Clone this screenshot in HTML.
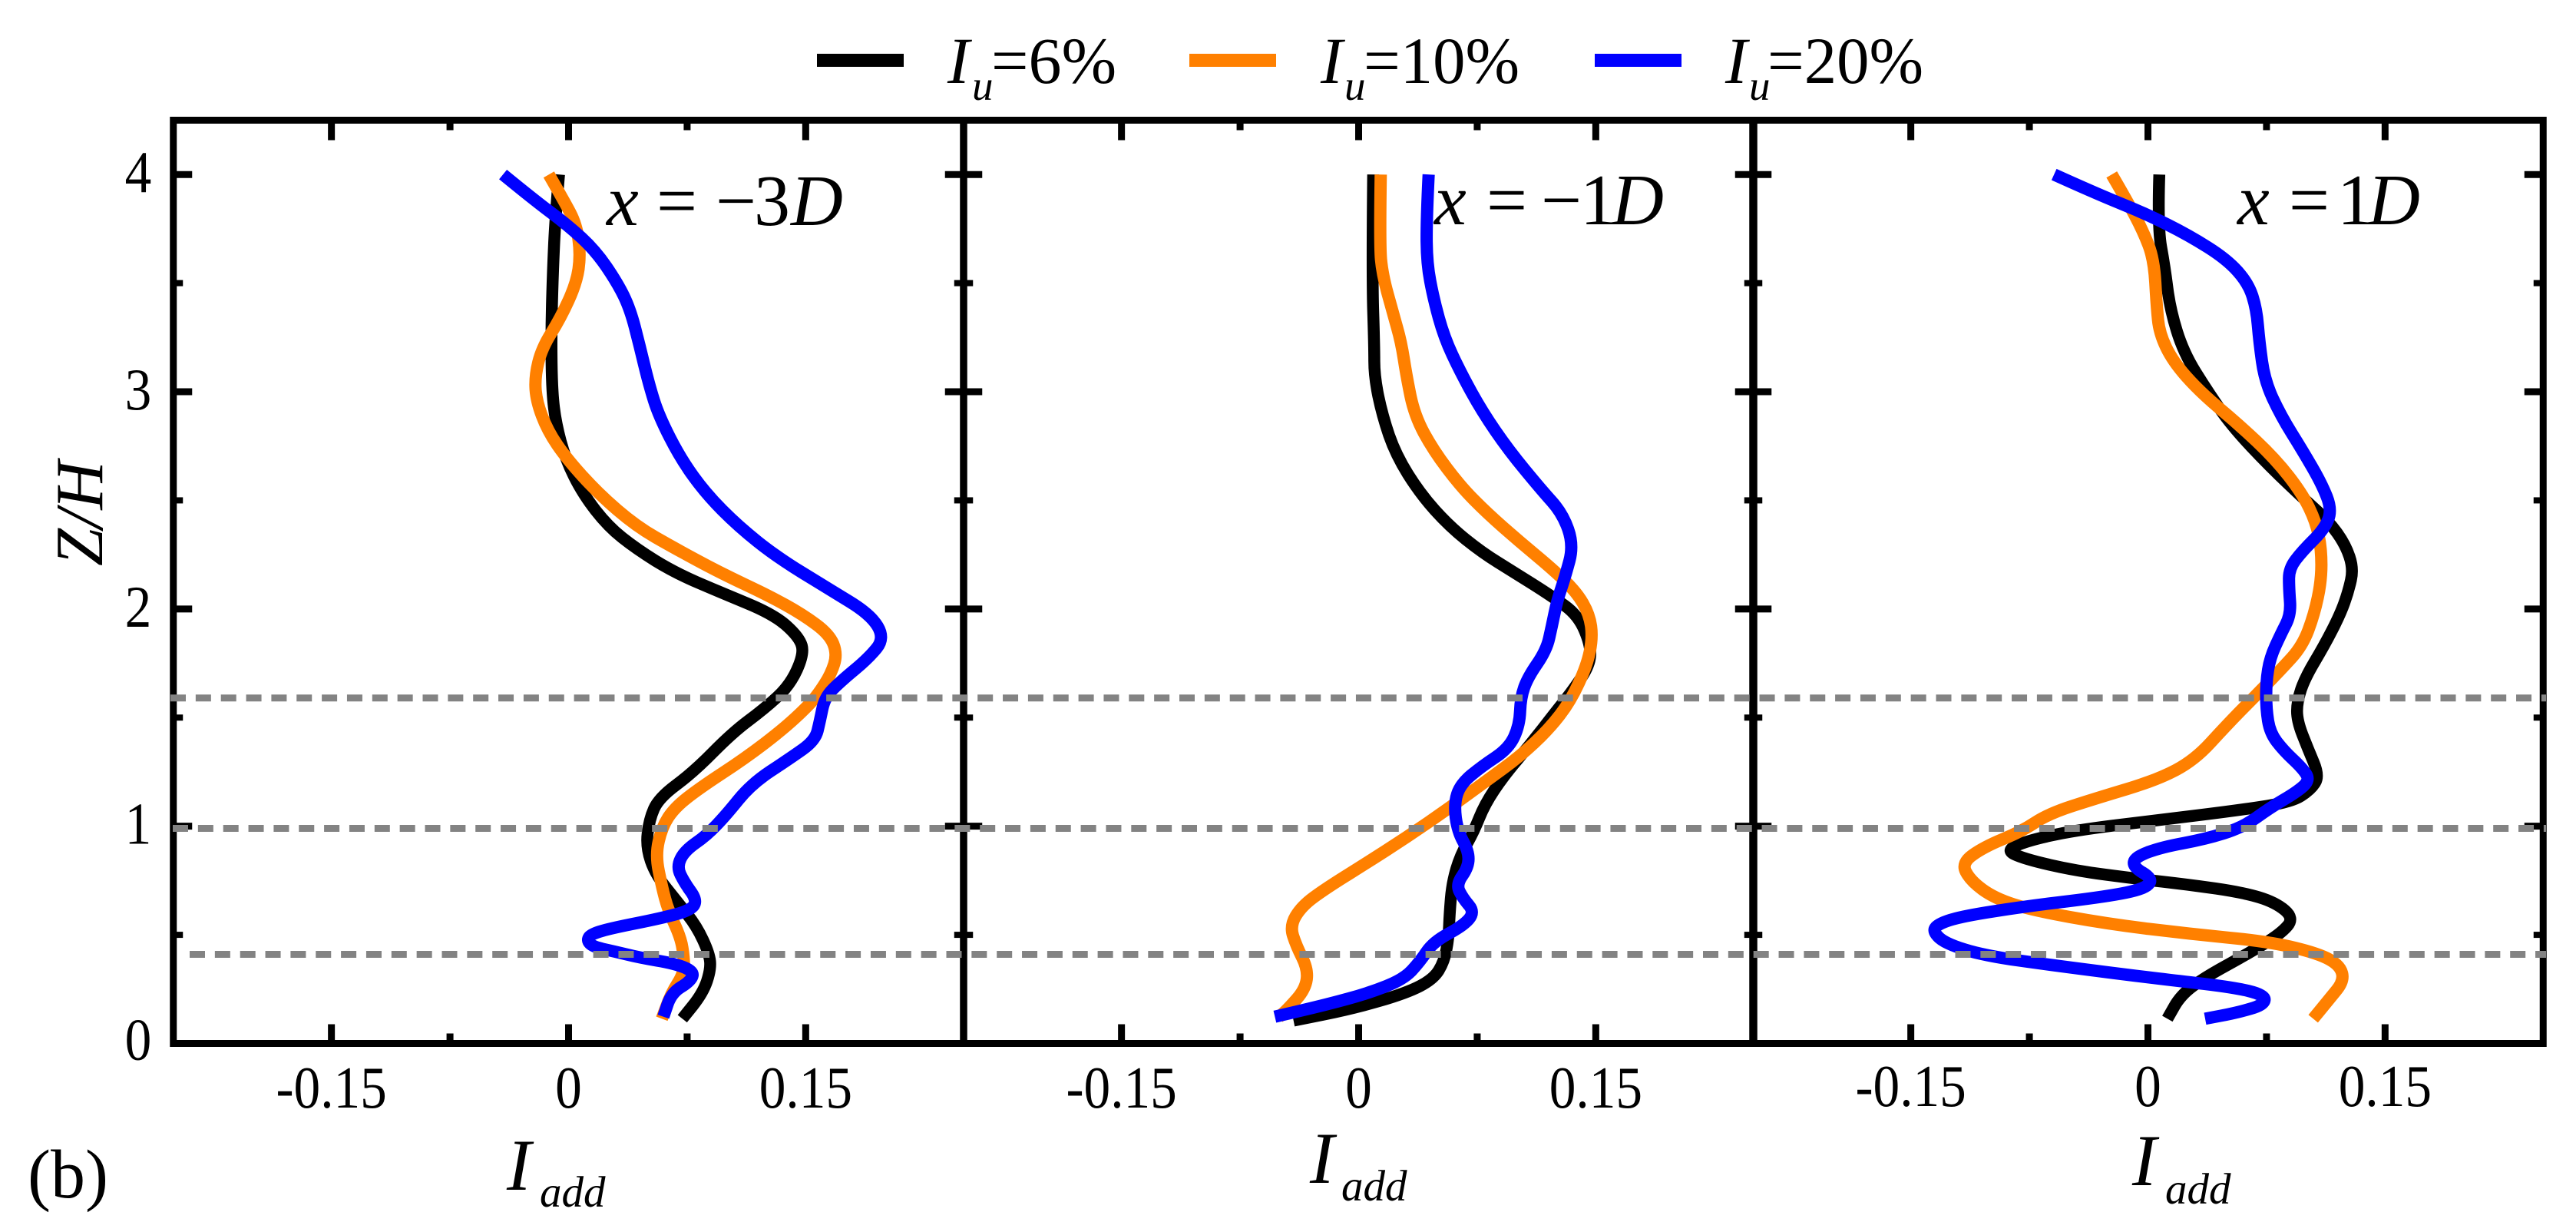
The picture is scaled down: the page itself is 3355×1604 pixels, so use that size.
<!DOCTYPE html>
<html lang="en">
<head>
<meta charset="utf-8">
<title>Added turbulence intensity profiles</title>
<style>
html,body{margin:0;padding:0;background:#fff;}
svg{display:block;}
text{font-family:"Liberation Serif",serif;fill:#000;}
.it{font-style:italic;}
</style>
</head>
<body>
<svg id="chart" xmlns="http://www.w3.org/2000/svg" width="3355" height="1604" viewBox="0 0 3355 1604">
  <rect x="0" y="0" width="3355" height="1604" fill="#fff"/>
  <g id="curves"></g>
  <g id="guides"></g>
  <g id="axes"></g>
  <g id="ticklabels"></g>

  <g>
    <g>
      <rect x="1064" y="70" width="113" height="17" fill="#000"/>
      <text class="it" x="1234" y="108" font-size="86">I</text>
      <text class="it" x="1266" y="130" font-size="55">u</text>
      <text x="1291" y="108" font-size="86">=6%</text>
    </g>
    <g>
      <rect x="1549" y="70" width="113" height="17" fill="#ff8000"/>
      <text class="it" x="1720" y="108" font-size="86">I</text>
      <text class="it" x="1751" y="130" font-size="55">u</text>
      <text x="1776" y="108" font-size="86" textLength="203" lengthAdjust="spacingAndGlyphs">=10%</text>
    </g>
    <g>
      <rect x="2077" y="70" width="113" height="17" fill="#0000ff"/>
      <text class="it" x="2247" y="108" font-size="86">I</text>
      <text class="it" x="2278" y="130" font-size="55">u</text>
      <text x="2302" y="108" font-size="86" textLength="203" lengthAdjust="spacingAndGlyphs">=20%</text>
    </g>
  </g>

  <g font-size="94">
    <text class="it" x="790" y="293">x</text>
    <text x="855" y="293">=</text>
    <text x="932" y="293">−</text>
    <text x="982" y="293">3</text>
    <text class="it" x="1030" y="293">D</text>
  </g>
  <g font-size="94">
    <text class="it" x="1868" y="292">x</text>
    <text x="1936" y="292">=</text>
    <text x="2007" y="292">−</text>
    <text x="2058" y="292">1</text>
    <text class="it" x="2099" y="292">D</text>
  </g>
  <g font-size="94">
    <text class="it" x="2914" y="292">x</text>
    <text x="2981" y="292">=</text>
    <text x="3044" y="292">1</text>
    <text class="it" x="3084" y="292">D</text>
  </g>

  <text class="it" transform="translate(133,737) rotate(-90)" font-size="88">Z/H</text>

  <g>
    <text class="it" x="660" y="1549" font-size="95">I</text>
    <text class="it" x="703" y="1571" font-size="57">add</text>
  </g>
  <g>
    <text class="it" x="1706" y="1540" font-size="95">I</text>
    <text class="it" x="1747" y="1563" font-size="57">add</text>
  </g>
  <g>
    <text class="it" x="2777" y="1543" font-size="95">I</text>
    <text class="it" x="2820" y="1567" font-size="57">add</text>
  </g>
  <text x="36" y="1559" font-size="90">(b)</text>
</svg>

<script>
// ---- Tick values and labels ----
const xMajorTicks = [-0.15, 0, 0.15];
const xMajorLabels = ["-0.15", "0", "0.15"];
const xMinorTicks = [-0.075, 0.075];
const yMajorTicks = [0, 1, 2, 3, 4];
const yMajorLabels = ["0", "1", "2", "3", "4"];
const yMinorTicks = [0.5, 1.5, 2.5, 3.5];
const guideHeights = [1.59, 0.99, 0.41];

// ---- Panel x = -3D ----
const p1BlackZ = [4,3.79,3.54,3.27,3,2.854,2.69,2.53,2.38,2.276,2.168,2.08,1.975,1.87,1.793,1.648,1.539,1.43,1.249,1.13,1.03,0.904,0.777,0.65,0.54,0.414,0.341,0.232,0.114];
const p1BlackI = [-0.006,-0.0085,-0.01,-0.011,-0.0105,-0.008,-0.002,0.009,0.025,0.043,0.067,0.095,0.13,0.146,0.149,0.14,0.1236,0.1035,0.079,0.057,0.051,0.049,0.055,0.069,0.081,0.089,0.09,0.085,0.072];
const p1OrangeZ = [4,3.88,3.77,3.63,3.5,3.34,3.2,3.07,2.96,2.82,2.69,2.53,2.38,2.28,2.17,2.06,1.975,1.884,1.793,1.7,1.61,1.557,1.448,1.312,1.176,1.085,0.995,0.867,0.722,0.613,0.486,0.396,0.323,0.232,0.114];
const p1OrangeI = [-0.0125,-0.003,0.005,0.0076,0.005,-0.005,-0.017,-0.0213,-0.0205,-0.0133,-0.001,0.019,0.043,0.067,0.095,0.127,0.148,0.165,0.17,0.166,0.158,0.152,0.136,0.1115,0.083,0.067,0.059,0.055,0.059,0.063,0.071,0.073,0.073,0.065,0.059];
const p1BlueZ = [4,3.88,3.77,3.65,3.5,3.38,3.21,3.03,2.89,2.69,2.53,2.38,2.24,2.095,1.975,1.866,1.775,1.666,1.593,1.485,1.394,1.312,1.194,1.05,0.958,0.886,0.813,0.74,0.659,0.613,0.577,0.532,0.505,0.475,0.445,0.425,0.395,0.368,0.332,0.287,0.232,0.123];
const p1BlueI = [-0.0415,-0.0213,-0.001,0.017,0.031,0.039,0.045,0.051,0.057,0.071,0.087,0.1075,0.1316,0.164,0.191,0.2,0.19,0.172,0.162,0.159,0.156,0.14,0.1155,0.0995,0.0874,0.0733,0.0684,0.0733,0.0813,0.0773,0.059,0.028,0.0145,0.0115,0.0155,0.028,0.045,0.067,0.0793,0.0773,0.065,0.06];

// ---- Panel x = -1D ----
const p2BlackZ = [4,3.54,3.21,3.07,2.89,2.71,2.53,2.38,2.26,2.17,2.06,1.97,1.83,1.74,1.63,1.52,1.376,1.23,1.1,0.976,0.867,0.74,0.595,0.486,0.377,0.296,0.232,0.16,0.105];
const p2BlackI = [0.0092,0.0085,0.0099,0.0099,0.015,0.0235,0.039,0.0575,0.078,0.098,0.122,0.139,0.147,0.146,0.136,0.124,0.1086,0.0916,0.0797,0.0729,0.0644,0.0592,0.0575,0.0569,0.0541,0.0473,0.0303,-0.0037,-0.0412];
const p2OrangeZ = [4,3.68,3.54,3.36,3.23,3.07,2.89,2.73,2.565,2.44,2.31,2.186,2.08,1.975,1.866,1.74,1.575,1.448,1.32,1.212,1.085,0.949,0.822,0.713,0.632,0.541,0.45,0.341,0.25,0.16,0.12];
const p2OrangeI = [0.014,0.0133,0.015,0.0218,0.0269,0.0303,0.0354,0.0473,0.0644,0.0814,0.1018,0.1222,0.1376,0.146,0.148,0.1444,0.134,0.1205,0.1018,0.0814,0.0575,0.0303,0.0031,-0.0208,-0.0361,-0.0435,-0.0395,-0.032,-0.0337,-0.0446,-0.0507];
const p2BlueZ = [4,3.79,3.59,3.43,3.25,3.09,2.91,2.73,2.55,2.44,2.295,2.15,2.04,1.92,1.81,1.684,1.593,1.466,1.358,1.276,1.194,1.103,0.976,0.886,0.813,0.731,0.668,0.604,0.541,0.468,0.377,0.296,0.232,0.178,0.123];
const p2BlueI = [0.0443,0.0429,0.0432,0.0473,0.0541,0.0644,0.078,0.095,0.1154,0.129,0.136,0.1307,0.1256,0.1222,0.1188,0.1069,0.1025,0.1018,0.095,0.078,0.0644,0.0603,0.0626,0.0695,0.0695,0.0616,0.066,0.0735,0.066,0.0473,0.0388,0.0286,0.0065,-0.0208,-0.053];

// ---- Panel x = 1D ----
const p3BlackZ = [4,3.756,3.576,3.38,3.18,3,2.84,2.655,2.49,2.4,2.295,2.186,2.08,1.975,1.83,1.684,1.575,1.485,1.358,1.23,1.167,1.112,1.076,1.03,0.985,0.94,0.891,0.849,0.795,0.759,0.731,0.695,0.65,0.577,0.505,0.414,0.305,0.223,0.114];
const p3BlackI = [0.0072,0.0061,0.0106,0.014,0.0225,0.0379,0.0533,0.0772,0.1011,0.1148,0.125,0.13,0.1268,0.1216,0.1114,0.0994,0.0943,0.0943,0.1011,0.1085,0.1028,0.0909,0.0601,0.0089,-0.0424,-0.0731,-0.0905,-0.0782,-0.0458,-0.0082,0.026,0.0601,0.0806,0.0925,0.084,0.0635,0.0362,0.0208,0.0123];
const p3OrangeZ = [4,3.88,3.74,3.61,3.395,3.27,3.14,3,2.854,2.69,2.53,2.4,2.276,2.13,1.975,1.83,1.72,1.593,1.466,1.303,1.212,1.13,1.058,0.976,0.904,0.831,0.75,0.668,0.613,0.55,0.505,0.468,0.414,0.359,0.287,0.205,0.114];
const p3OrangeI = [-0.0229,-0.0133,-0.0031,0.0038,0.0055,0.0072,0.0157,0.0328,0.0567,0.0806,0.0977,0.1063,0.1097,0.1097,0.1052,0.0977,0.084,0.067,0.0499,0.0294,0.0055,-0.0321,-0.0629,-0.08,-0.1039,-0.118,-0.1124,-0.097,-0.0731,-0.0253,0.026,0.0772,0.108,0.1216,0.124,0.1148,0.1045];
const p3BlueZ = [4,3.91,3.82,3.72,3.61,3.5,3.38,3.23,3.05,2.89,2.73,2.58,2.455,2.366,2.267,2.186,2.096,1.975,1.884,1.775,1.666,1.539,1.43,1.348,1.267,1.212,1.158,1.085,0.995,0.94,0.904,0.858,0.813,0.759,0.713,0.677,0.632,0.586,0.55,0.514,0.459,0.405,0.359,0.296,0.26,0.223,0.178,0.142,0.114];
const p3BlueI = [-0.0594,-0.032,-0.0014,0.026,0.0499,0.0635,0.0687,0.0704,0.0738,0.084,0.0977,0.1097,0.1165,0.1114,0.0977,0.0892,0.0892,0.0905,0.084,0.0772,0.0748,0.0748,0.0772,0.0858,0.0977,0.1025,0.0943,0.0772,0.0601,0.0362,0.0089,-0.0082,-0.0095,0.003,-0.0014,-0.0253,-0.0765,-0.1175,-0.1329,-0.1362,-0.1278,-0.1039,-0.0594,0.0089,0.0533,0.074,0.0735,0.0567,0.0362];

const seriesColor = {black:"#000000", orange:"#ff8000", blue:"#0000ff"};
const seriesWidth = {black:15.5, orange:16, blue:16};
const panelSeries = [
  [["black",p1BlackZ,p1BlackI],["orange",p1OrangeZ,p1OrangeI],["blue",p1BlueZ,p1BlueI]],
  [["black",p2BlackZ,p2BlackI],["orange",p2OrangeZ,p2OrangeI],["blue",p2BlueZ,p2BlueI]],
  [["black",p3BlackZ,p3BlackI],["orange",p3OrangeZ,p3OrangeI],["blue",p3BlueZ,p3BlueI]]
];

// ---- Layout and axis functions ----
const NS = "http://www.w3.org/2000/svg";
const plotTop = 156.5, plotBottom = 1358.5, zMax = 4.25;
const panelCenter = [740.5, 1769.5, 2797.5];
const panelHalf = 514.75, xHalfRange = 0.25;
function xScale(panel, v){ return panelCenter[panel] + v / xHalfRange * panelHalf; }
function yScale(z){ return plotBottom - z / zMax * (plotBottom - plotTop); }

// Quadratic spline through segment midpoints, which keeps hand-read profiles free of kinks
function smoothPath(pts){
  let d = "M" + pts[0][0].toFixed(1) + " " + pts[0][1].toFixed(1);
  for(let i = 1; i < pts.length - 1; i++){
    const mx = (pts[i][0] + pts[i + 1][0]) / 2, my = (pts[i][1] + pts[i + 1][1]) / 2;
    d += "Q" + pts[i][0].toFixed(1) + " " + pts[i][1].toFixed(1) + " " + mx.toFixed(1) + " " + my.toFixed(1);
  }
  const last = pts[pts.length - 1];
  d += "L" + last[0].toFixed(1) + " " + last[1].toFixed(1);
  return d;
}

function makeLine(x1, y1, x2, y2, w){
  const el = document.createElementNS(NS, "line");
  el.setAttribute("x1", x1);
  el.setAttribute("y1", y1);
  el.setAttribute("x2", x2);
  el.setAttribute("y2", y2);
  el.setAttribute("stroke", "#000");
  el.setAttribute("stroke-width", w);
  return el;
}

function makeLabel(x, y, str){
  const el = document.createElementNS(NS, "text");
  el.setAttribute("transform", "translate(" + x + "," + y + ") scale(0.9,1)");
  el.setAttribute("text-anchor", "middle");
  el.setAttribute("font-size", "77");
  el.textContent = str;
  return el;
}

const curves = document.getElementById("curves");
const guides = document.getElementById("guides");
const axes = document.getElementById("axes");
const ticklabels = document.getElementById("ticklabels");

// Curves
panelSeries.forEach(function(list, p){
  list.forEach(function(s){
    const pts = s[1].map(function(z, i){ return [xScale(p, s[2][i]), yScale(z)]; });
    const el = document.createElementNS(NS, "path");
    el.setAttribute("d", smoothPath(pts));
    el.setAttribute("fill", "none");
    el.setAttribute("stroke", seriesColor[s[0]]);
    el.setAttribute("stroke-width", seriesWidth[s[0]]);
    el.setAttribute("stroke-linecap", "butt");
    el.setAttribute("stroke-linejoin", "round");
    
    
    curves.appendChild(el);
  });
});

// Axes: ticks then frames
panelCenter.forEach(function(c, p){
  const left = xScale(p, -xHalfRange), right = xScale(p, xHalfRange);
  xMajorTicks.forEach(function(v, i){
    const x = xScale(p, v);
    const top = makeLine(x, plotTop, x, plotTop + 26, 9);
    
    
    axes.appendChild(top);
    const bot = makeLine(x, plotBottom, x, plotBottom - 25, 9);
    
    
    axes.appendChild(bot);
    const lab = makeLabel(x, p === 2 ? 1440 : 1442, xMajorLabels[i]);
    
    
    ticklabels.appendChild(lab);
  });
  xMinorTicks.forEach(function(v){
    const x = xScale(p, v);
    const top = makeLine(x, plotTop, x, plotTop + 13, 9);
    
    
    axes.appendChild(top);
    const bot = makeLine(x, plotBottom, x, plotBottom - 13, 9);
    
    
    axes.appendChild(bot);
  });
  yMajorTicks.forEach(function(z){
    const y = yScale(z);
    const a = makeLine(left, y, left + 24.5, y, 9);
    
    
    axes.appendChild(a);
    const b = makeLine(right, y, right - 24.5, y, 9);
    
    
    axes.appendChild(b);
  });
  yMinorTicks.forEach(function(z){
    const y = yScale(z);
    const a = makeLine(left, y, left + 12.5, y, 8);
    
    
    axes.appendChild(a);
    const b = makeLine(right, y, right - 12.5, y, 8);
    
    
    axes.appendChild(b);
  });
  const frame = document.createElementNS(NS, "rect");
  frame.setAttribute("x", left);
  frame.setAttribute("y", plotTop);
  frame.setAttribute("width", right - left);
  frame.setAttribute("height", plotBottom - plotTop);
  frame.setAttribute("fill", "none");
  frame.setAttribute("stroke", "#000");
  frame.setAttribute("stroke-width", "9");
  
  
  axes.appendChild(frame);
});

yMajorTicks.forEach(function(z, i){
  const lab = makeLabel(180, yScale(z) + (z === 0 ? 21 : 23), yMajorLabels[i]);
  
  
  ticklabels.appendChild(lab);
});

// Dashed reference lines sit over the curves
const guideStart = [222, 225, 247];
guideHeights.forEach(function(h, i){
  const y = yScale(h);
  const el = document.createElementNS(NS, "line");
  el.setAttribute("x1", guideStart[i]);
  el.setAttribute("y1", y);
  el.setAttribute("x2", 3316);
  el.setAttribute("y2", y);
  el.setAttribute("stroke", "#838383");
  el.setAttribute("stroke-width", "9");
  el.setAttribute("stroke-dasharray", "20 12.85");
  
  
  guides.appendChild(el);
});
// Guides render above the axes, as in the figure
document.getElementById("chart").insertBefore(axes, guides);
</script>
</body>
</html>
